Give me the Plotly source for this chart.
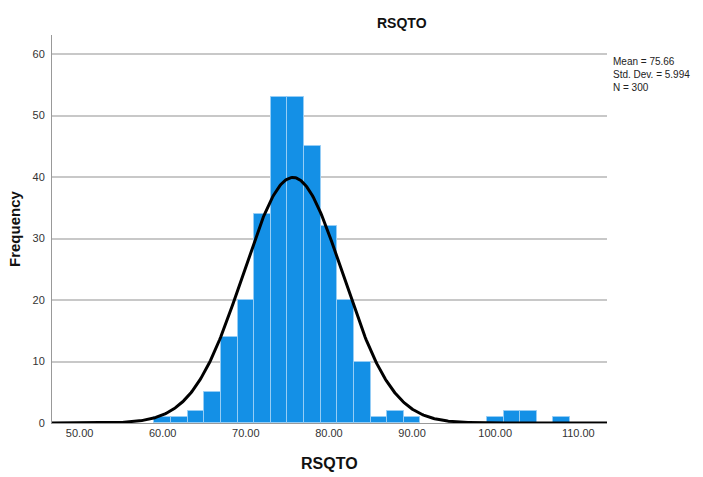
import numpy as np
import plotly.graph_objects as go

# Histogram of RSQTO (bin width 2, bins centred on even values)
bin_centers = [60, 62, 64, 66, 68, 70, 72, 74, 76, 78, 80, 82, 84, 86, 88, 90,
               100, 102, 104, 108]
counts = [1, 1, 2, 5, 14, 20, 34, 53, 53, 45, 32, 20, 10, 1, 2, 1,
          1, 2, 2, 1]
bin_width = 2

mean_val = 75.66
std_val = 5.994
n_val = 300

x_ticks = [50, 60, 70, 80, 90, 100, 110]
x_tick_text = ["50.00", "60.00", "70.00", "80.00", "90.00", "100.00", "110.00"]
y_ticks = [0, 10, 20, 30, 40, 50, 60]

x_range = [46.68, 113.45]
y_range = [0, 63.1]

# Normal curve scaled to frequency
xs = np.linspace(x_range[0], x_range[1], 600)
ys = n_val * bin_width / (std_val * np.sqrt(2 * np.pi)) * np.exp(-0.5 * ((xs - mean_val) / std_val) ** 2)

font_family = "Liberation Sans, Arial, sans-serif"

fig = go.Figure()
fig.add_trace(go.Bar(
    x=bin_centers, y=counts, width=bin_width,
    marker=dict(color="rgb(20,144,230)", line=dict(color="rgb(150,205,245)", width=1)),
    hoverinfo="x+y",
))
fig.add_trace(go.Scatter(
    x=xs, y=ys, mode="lines",
    line=dict(color="black", width=3),
    hoverinfo="skip",
))

fig.update_layout(
    width=703, height=477,
    margin=dict(l=52, r=96, t=35, b=54, autoexpand=False),
    paper_bgcolor="white", plot_bgcolor="white",
    showlegend=False,
    bargap=0,
    font=dict(family=font_family, color="#222222"),
    xaxis=dict(
        range=x_range, tickvals=x_ticks, ticktext=x_tick_text,
        showgrid=False, zeroline=False, automargin=False,
        showline=True, linecolor="#999999", linewidth=1,
        ticks="", tickfont=dict(size=11, color="#333333"),
    ),
    yaxis=dict(
        range=y_range, tickvals=y_ticks,
        showgrid=True, gridcolor="#c8c8c8", gridwidth=1.5,
        zeroline=False, automargin=False,
        showline=True, linecolor="#999999", linewidth=1,
        ticks="", tickfont=dict(size=11, color="#333333"), ticklabelstandoff=4,
    ),
    annotations=[
        dict(text="<b>RSQTO</b>", xref="paper", yref="paper",
             x=0.631, y=1.0, yshift=12, showarrow=False,
             font=dict(size=14, color="#111111"), xanchor="center", yanchor="middle"),
        dict(text="<b>RSQTO</b>", xref="paper", yref="paper",
             x=0.5, y=0.0, yshift=-40, showarrow=False,
             font=dict(size=16, color="#111111"), xanchor="center", yanchor="middle"),
        dict(text="<b>Frequency</b>", xref="paper", yref="paper",
             x=0.0, y=0.5, xshift=-38, textangle=-90, showarrow=False,
             font=dict(size=15, color="#111111"), xanchor="center", yanchor="middle"),
        dict(text="Mean = 75.66<br>Std. Dev. = 5.994<br>N = 300",
             xref="paper", yref="paper", x=1.0, y=y_ticks[-1] / y_range[1],
             xshift=4, yshift=0, showarrow=False, align="left",
             xanchor="left", yanchor="top",
             font=dict(size=10, color="#222222")),
    ],
)

fig.write_html("out.html")
